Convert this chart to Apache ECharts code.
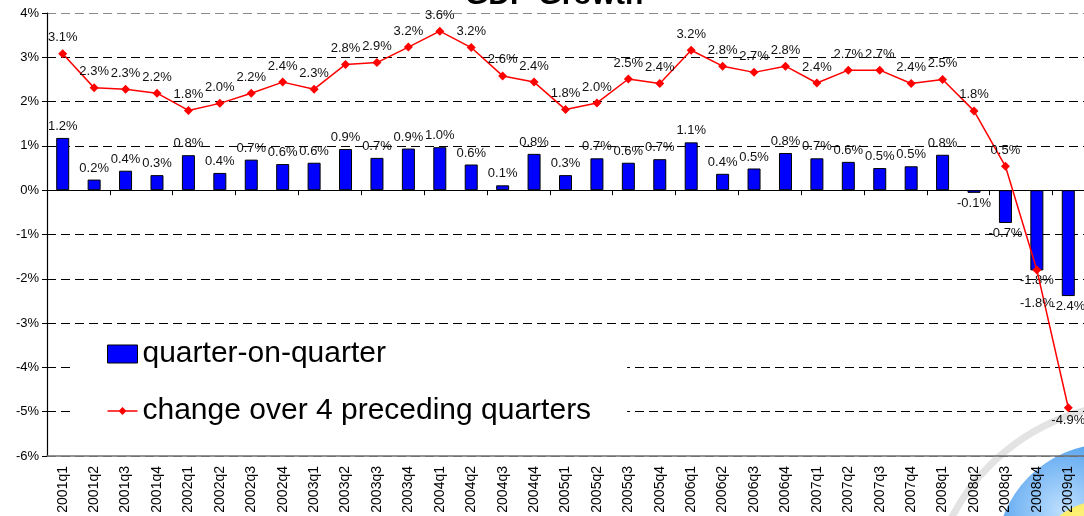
<!DOCTYPE html>
<html>
<head>
<meta charset="utf-8">
<script src="https://cdn.jsdelivr.net/npm/echarts@6/dist/echarts.min.js"></script>
<style>
html,body{margin:0;padding:0;background:#fff;}
#chart{width:1084px;height:516px;}
</style>
</head>
<body>
<div id="chart"></div>
<script>
const categories = ['2001q1','2001q2','2001q3','2001q4','2002q1','2002q2','2002q3','2002q4',
  '2003q1','2003q2','2003q3','2003q4','2004q1','2004q2','2004q3','2004q4',
  '2005q1','2005q2','2005q3','2005q4','2006q1','2006q2','2006q3','2006q4',
  '2007q1','2007q2','2007q3','2007q4','2008q1','2008q2','2008q3','2008q4','2009q1'];
const quarterOnQuarter = [1.18,0.24,0.44,0.34,0.79,0.39,0.69,0.59,
  0.62,0.93,0.73,0.94,0.97,0.58,0.11,0.82,
  0.34,0.72,0.62,0.70,1.08,0.37,0.49,0.84,
  0.72,0.64,0.50,0.54,0.80,-0.06,-0.74,-1.81,-2.39];
const changeOver4 = [3.08,2.31,2.28,2.19,1.80,1.96,2.19,2.44,
  2.28,2.84,2.88,3.23,3.59,3.22,2.58,2.44,
  1.82,1.97,2.51,2.41,3.16,2.80,2.66,2.80,
  2.42,2.71,2.71,2.41,2.50,1.79,0.54,-1.80,-4.91];
const yTicks = {min: -6, max: 4, step: 1};
const seriesNames = ['quarter-on-quarter', 'change over 4 preceding quarters'];

const FONT = '"Liberation Sans", Arial, sans-serif';
const fmt = p => Number(p.value).toFixed(1) + '%';

const barData = quarterOnQuarter.map(v => ({
  value: v,
  label: v < 0 ? {position: 'bottom', distance: 4} : {position: 'top', distance: 5}
}));
const lineData = changeOver4.map((v, i) => {
  if (v >= 0) return {value: v, label: {position: 'top', distance: 5}};
  const d = categories[i] === '2008q4' ? 22 : 2;
  return {value: v, label: {position: 'bottom', distance: d}};
});

const chart = echarts.init(document.getElementById('chart'), null, {renderer: 'canvas'});
chart.setOption({
  animation: false,
  backgroundColor: '#fff',
  textStyle: {fontFamily: FONT},
  title: {
    text: 'GDP Growth',
    left: 465, top: -19, padding: 0,
    textStyle: {fontSize: 30, fontWeight: 'bold', color: '#000', fontFamily: FONT}
  },
  graphic: [
    {type: 'circle', z: -1, shape: {cx: 1140, cy: 615, r: 212},
     style: {fill: 'none', stroke: '#e3e3e3', lineWidth: 7}},
    {type: 'circle', z: -1, shape: {cx: 1108, cy: 556, r: 112},
     style: {fill: new echarts.graphic.RadialGradient(0.3, 0.3, 0.8, [
       {offset: 0, color: '#bfe0ff'}, {offset: 0.5, color: '#3d94ea'}, {offset: 1, color: '#1a5fc0'}])}},
    {type: 'circle', z: -1, shape: {cx: 1106, cy: 576, r: 76},
     style: {fill: new echarts.graphic.RadialGradient(0.4, 0.3, 0.8, [
       {offset: 0, color: '#fff9a0'}, {offset: 1, color: '#f5d800'}])}}
  ],
  grid: {left: 47, right: -3, top: 13, bottom: 60, containLabel: false},
  legend: {
    orient: 'vertical',
    left: 72, top: 327,
    padding: [12, 36, 12, 35],
    backgroundColor: '#fff',
    itemGap: 27,
    itemWidth: 30, itemHeight: 18,
    textStyle: {fontSize: 30, color: '#000', fontFamily: FONT},
    data: [
      {name: seriesNames[0], icon: 'rect', itemStyle: {color: '#0000ff', borderColor: '#000', borderWidth: 1}},
      {name: seriesNames[1], icon: 'path://M0,3.25H30V4.75H0Z M15,0L19,4L15,8L11,4Z', itemStyle: {color: '#ff0000', borderWidth: 0}}
    ]
  },
  xAxis: [
    {
      type: 'category', data: categories, position: 'bottom',
      axisLine: {show: true, onZero: false, lineStyle: {color: '#707070', width: 1.5}},
      axisTick: {show: false},
      axisLabel: {rotate: 90, fontSize: 14, color: '#000', margin: 10, fontFamily: FONT},
      splitLine: {show: false}
    },
    {
      type: 'category', data: categories, position: 'bottom',
      axisLine: {show: true, onZero: true, lineStyle: {color: '#000', width: 1.2}},
      axisTick: {show: true, inside: false, length: 5, lineStyle: {color: '#000'}},
      axisLabel: {show: false},
      splitLine: {show: false}
    }
  ],
  yAxis: {
    type: 'value', min: yTicks.min, max: yTicks.max, interval: yTicks.step,
    axisLine: {show: true, lineStyle: {color: '#000', width: 1.2}},
    axisTick: {show: true, length: 5, lineStyle: {color: '#000'}},
    axisLabel: {formatter: v => v + '%', fontSize: 13, color: '#000', margin: 8, fontFamily: FONT},
    splitLine: {show: true, lineStyle: {
      color: ['#707070','#000','#000','#000','#000','#000','#000','#000','#000','#000','#8a8a8a'],
      type: [9, 5], width: 1}}
  },
  series: [
    {
      name: seriesNames[0], type: 'bar', xAxisIndex: 0,
      data: barData, barWidth: 13,
      itemStyle: {color: '#0000ff', borderColor: '#000', borderWidth: 1},
      label: {show: true, formatter: fmt, fontSize: 13, color: '#111', fontFamily: FONT},
      z: 2
    },
    {
      name: seriesNames[1], type: 'line', xAxisIndex: 0,
      data: lineData,
      symbol: 'diamond', symbolSize: 9,
      lineStyle: {color: '#ff0000', width: 1.5},
      itemStyle: {color: '#ff0000'},
      label: {show: true, formatter: fmt, fontSize: 13, color: '#111', fontFamily: FONT},
      z: 3
    }
  ]
});
</script>
</body>
</html>
